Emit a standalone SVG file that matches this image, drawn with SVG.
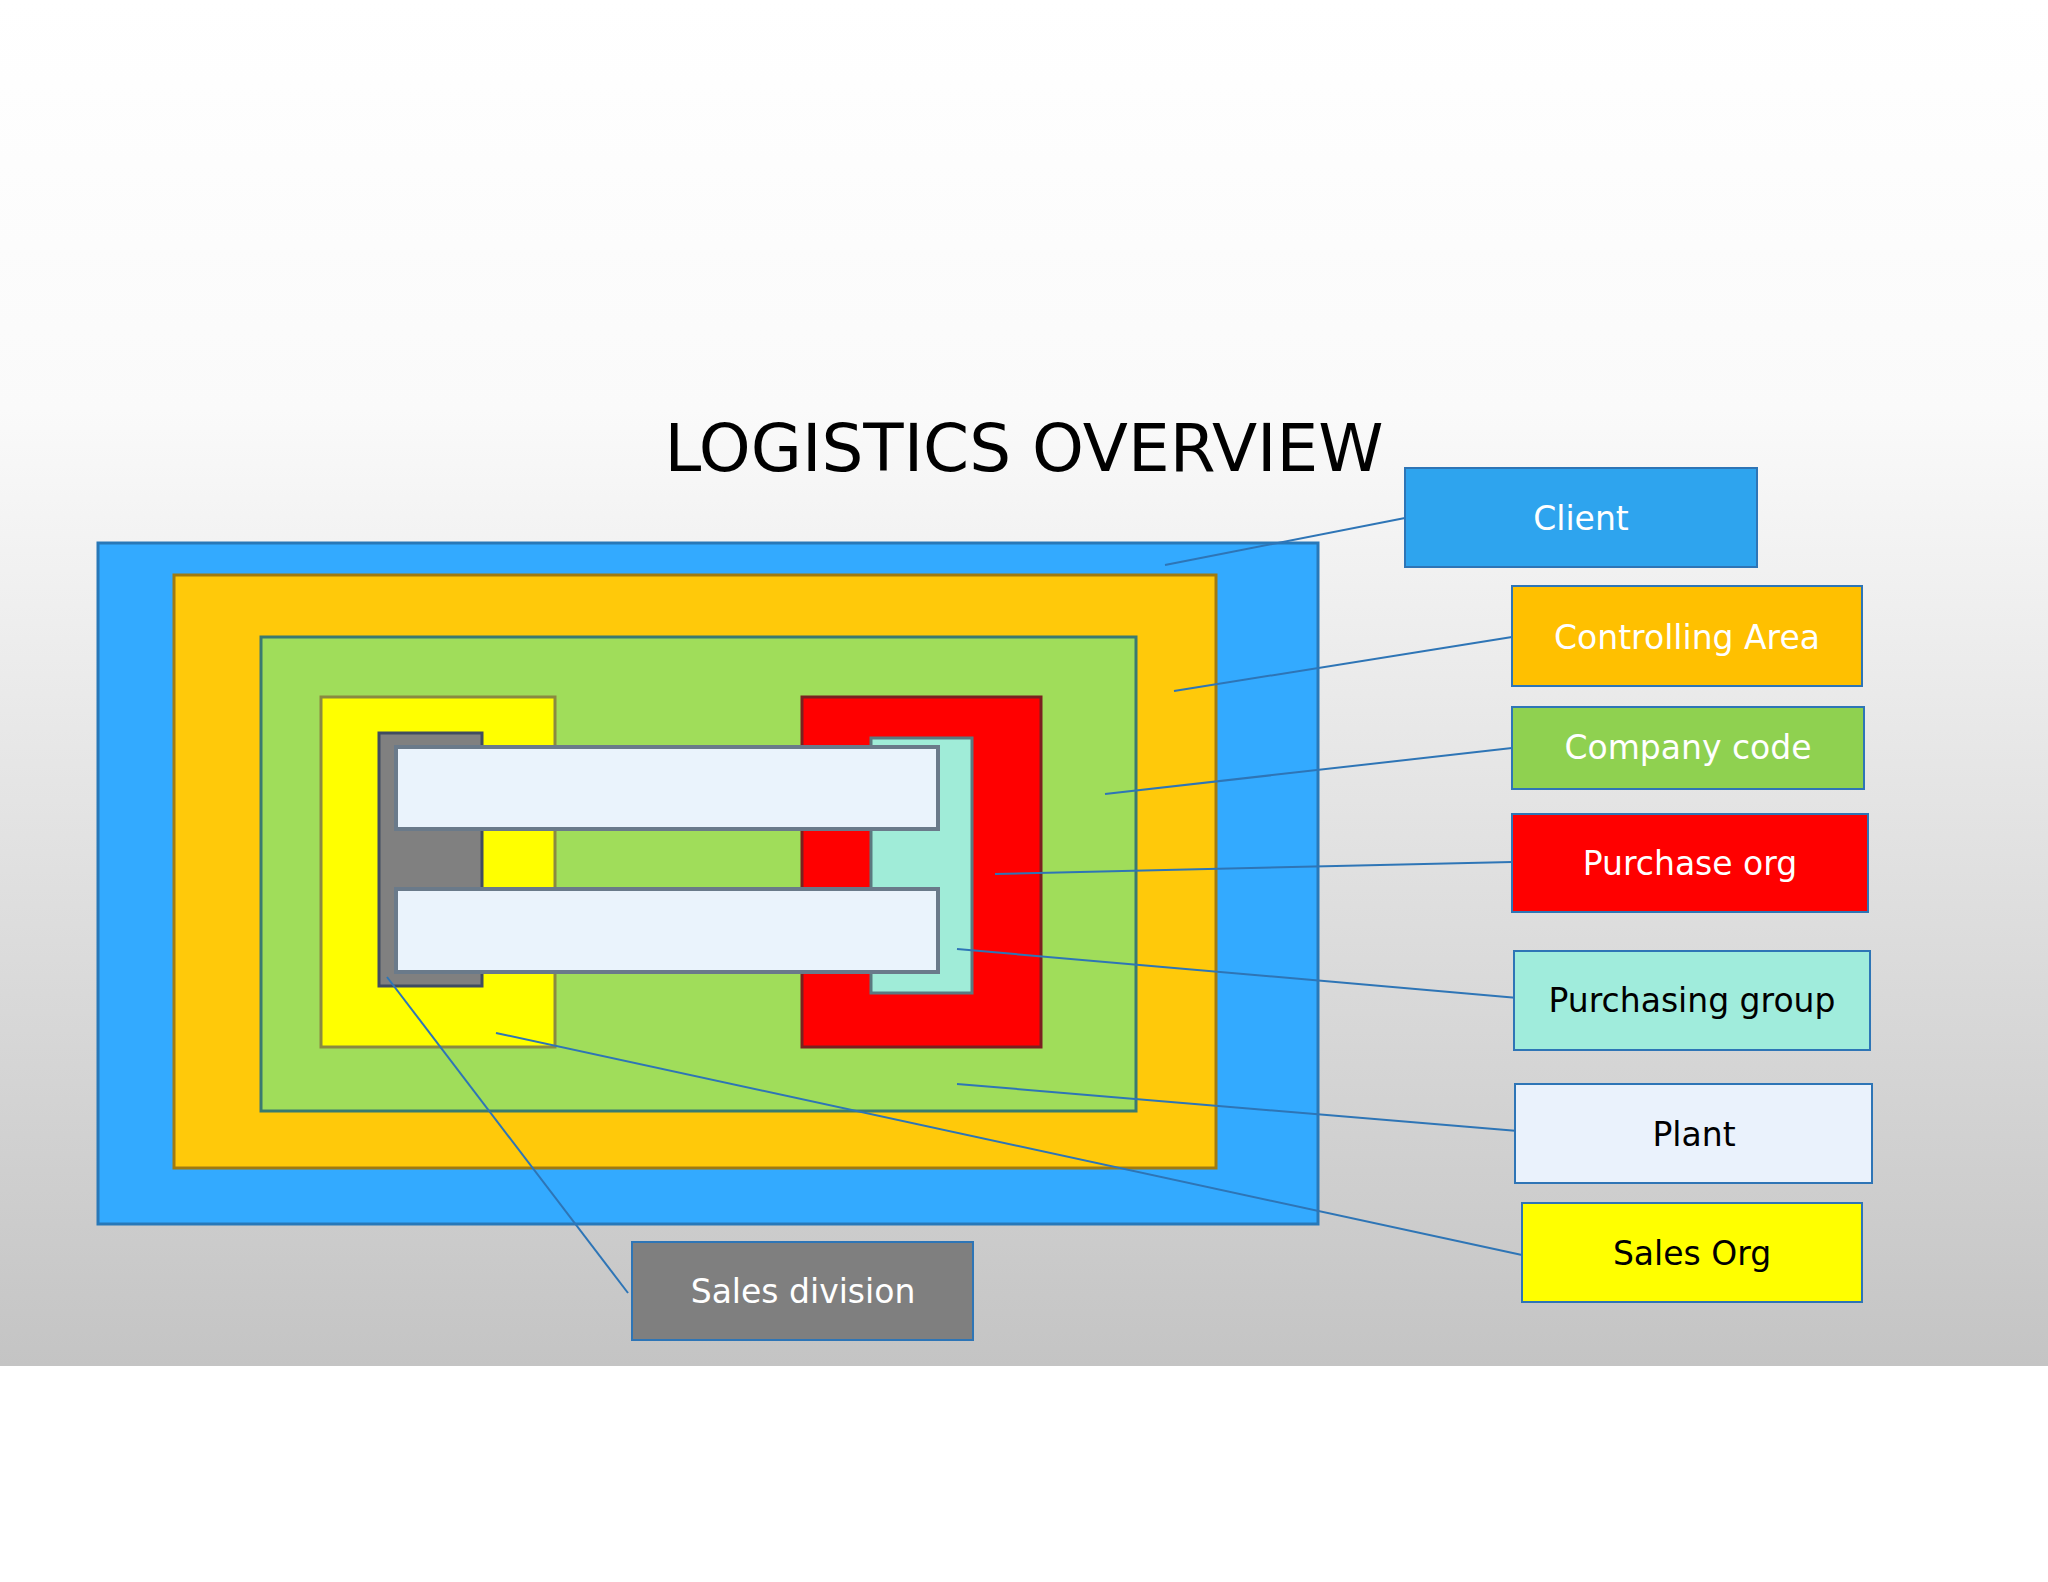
<svg xmlns="http://www.w3.org/2000/svg" width="2048" height="1582" viewBox="0 0 2048 1582">
<defs>
<linearGradient id="bg" x1="0" y1="0" x2="0" y2="1"><stop offset="0" stop-color="#ffffff"/><stop offset="0.3" stop-color="#fafafa"/><stop offset="1" stop-color="#c4c4c4"/></linearGradient>
</defs>
<style>
.b{stroke-width:3}
.lb{stroke:#2e75b6;stroke-width:2}
.t{font-family:"DejaVu Sans","Liberation Sans",sans-serif;font-size:33px;text-anchor:middle;dominant-baseline:middle}
.w{fill:#ffffff}.k{fill:#000000}
.c line{stroke:#2e75b6;stroke-width:2}
</style>
<rect width="2048" height="1582" fill="#ffffff"/>
<rect width="2048" height="1366" fill="url(#bg)"/>
<text x="1024" y="453" font-family="DejaVu Sans,sans-serif" font-size="66" text-anchor="middle" dominant-baseline="middle" fill="#000">LOGISTICS OVERVIEW</text>
<g id="diagram">
<rect x="98" y="543" width="1220" height="681" fill="#33aaff" stroke="#2878b8" class="b"/>
<rect x="174" y="575" width="1042" height="593" fill="#ffc90a" stroke="#a07a10" class="b"/>
<rect x="261" y="637" width="875" height="474" fill="#a0dd5a" stroke="#3a7a70" class="b"/>
<rect x="321" y="697" width="234" height="350" fill="#ffff00" stroke="#8a8a40" class="b"/>
<rect x="379" y="733" width="103" height="253" fill="#808080" stroke="#404c60" class="b"/>
<rect x="802" y="697" width="239" height="350" fill="#ff0000" stroke="#7a2020" class="b"/>
<rect x="871" y="738" width="101" height="255" fill="#a0ecd8" stroke="#5a7a80" class="b"/>
<rect x="396" y="747" width="542" height="82" fill="#eaf3fc" stroke="#6a7a8a" stroke-width="4"/>
<rect x="396" y="889" width="542" height="83" fill="#eaf3fc" stroke="#6a7a8a" stroke-width="4"/>
</g>
<g id="connectors" class="c">
<line x1="1405" y1="518" x2="1165" y2="565"/>
<line x1="1512" y1="637" x2="1174" y2="691"/>
<line x1="1512" y1="748" x2="1105" y2="794"/>
<line x1="1512" y1="862" x2="995" y2="874"/>
<line x1="1518" y1="998" x2="957" y2="949"/>
<line x1="1518" y1="1131" x2="957" y2="1084"/>
<line x1="1522" y1="1255" x2="496" y2="1033"/>
<line x1="628" y1="1293" x2="387" y2="977"/>
</g>
<g id="client"><rect x="1405" y="468" width="352" height="99" fill="#2ea4ee" class="lb"/><text x="1581" y="520" class="t w">Client</text></g>
<g id="controlling"><rect x="1512" y="586" width="350" height="100" fill="#ffc000" class="lb"/><text x="1687" y="639" class="t w">Controlling Area</text></g>
<g id="company"><rect x="1512" y="707" width="352" height="82" fill="#8fd150" class="lb"/><text x="1688" y="749" class="t w">Company code</text></g>
<g id="purchaseorg"><rect x="1512" y="814" width="356" height="98" fill="#ff0000" class="lb"/><text x="1690" y="865" class="t w">Purchase org</text></g>
<g id="purchgroup"><rect x="1514" y="951" width="356" height="99" fill="#a0ecdc" class="lb"/><text x="1692" y="1002" class="t k">Purchasing group</text></g>
<g id="plant"><rect x="1515" y="1084" width="357" height="99" fill="#eaf2fc" class="lb"/><text x="1694" y="1136" class="t k">Plant</text></g>
<g id="salesorg"><rect x="1522" y="1203" width="340" height="99" fill="#ffff00" class="lb"/><text x="1692" y="1255" class="t k">Sales Org</text></g>
<g id="salesdiv"><rect x="632" y="1242" width="341" height="98" fill="#7f7f7f" class="lb"/><text x="803" y="1293" class="t w">Sales division</text></g>
</svg>
